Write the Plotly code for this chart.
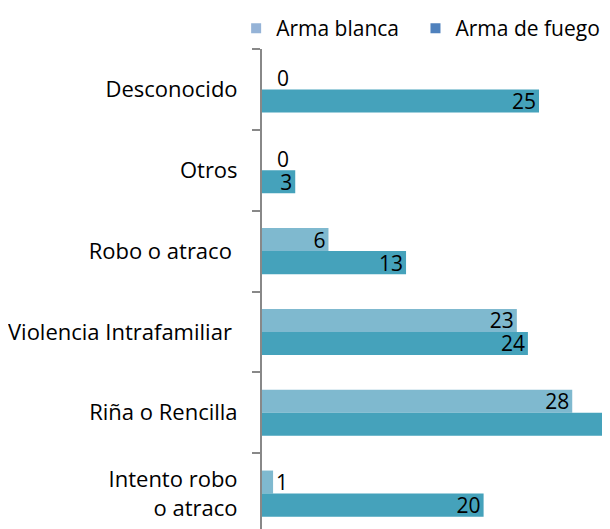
import plotly.graph_objects as go

categories = ["Desconocido", "Otros", "Robo o atraco\u00a0", "Violencia Intrafamiliar\u00a0",
              "Riña o Rencilla", "Intento robo<br>o atraco"]
arma_blanca = [0, 0, 6, 23, 28, 1]
arma_fuego = [25, 3, 13, 24, 35, 20]

bar_blanca_color = "#7FB9CF"
bar_fuego_color = "#45A2BB"
legend_blanca_color = "#95B3D7"
legend_fuego_color = "#4F81BD"

font_family = "Open Sans, Liberation Sans, sans-serif"
fs = 21

fig = go.Figure()
series = [("Arma blanca", arma_blanca, bar_blanca_color, 11.5),
          ("Arma de fuego", arma_fuego, bar_fuego_color, -11.5)]
for name, vals, col, ysh in series:
    fig.add_trace(go.Bar(
        y=categories, x=vals, orientation="h", name=name,
        marker=dict(color=col, line=dict(width=0)),
        text=[str(v) for v in vals], textposition="auto", textangle=0,
        insidetextanchor="end", constraintext="none",
        insidetextfont=dict(color="black", size=fs, family=font_family),
        outsidetextfont=dict(color="black", size=fs, family=font_family),
        showlegend=False, cliponaxis=True,
    ))
    # zero-length bars get no text from plotly; label them explicitly
    for cat, v in zip(categories, vals):
        if v == 0:
            fig.add_annotation(x=v, y=cat, text=str(v), showarrow=False,
                               xanchor="left", yanchor="middle", xshift=13, yshift=ysh,
                               font=dict(size=fs, family=font_family, color="black"))

# legend entries (legend colours differ from bar colours in the original)
fig.add_trace(go.Scatter(y=[None], x=[None], mode="markers", name="Arma blanca",
                         marker=dict(color=legend_blanca_color, symbol="square", size=10),
                         showlegend=True, legend="legend"))
fig.add_trace(go.Scatter(y=[None], x=[None], mode="markers", name="Arma de fuego",
                         marker=dict(color=legend_fuego_color, symbol="square", size=10),
                         showlegend=True, legend="legend2"))

leg_common = dict(orientation="h", xref="container", yref="container",
                  xanchor="left", y=1.0, yanchor="top",
                  font=dict(size=fs, family=font_family),
                  itemwidth=30, bgcolor="rgba(0,0,0,0)")

fig.update_layout(
    width=610, height=529,
    margin=dict(l=254, r=0, t=40, b=0),
    barmode="group", bargap=0.43, bargroupgap=0,
    plot_bgcolor="white", paper_bgcolor="white",
    font=dict(family=font_family, size=fs, color="black"),
    legend=dict(x=0.374, **leg_common),
    legend2=dict(x=0.668, **leg_common),
    xaxis=dict(range=[0, 32.13], visible=False, fixedrange=True),
    yaxis=dict(type="category", categoryorder="array", categoryarray=categories,
               range=[5.537, -0.5], showline=True, linecolor="#888888", linewidth=2,
               ticks="outside", tickson="boundaries", ticklen=8, tickcolor="#888888",
               tickwidth=2, showgrid=False, ticklabelstandoff=18, automargin=False,
               tickfont=dict(size=22, family=font_family)),
)

fig.write_html("out.html")
